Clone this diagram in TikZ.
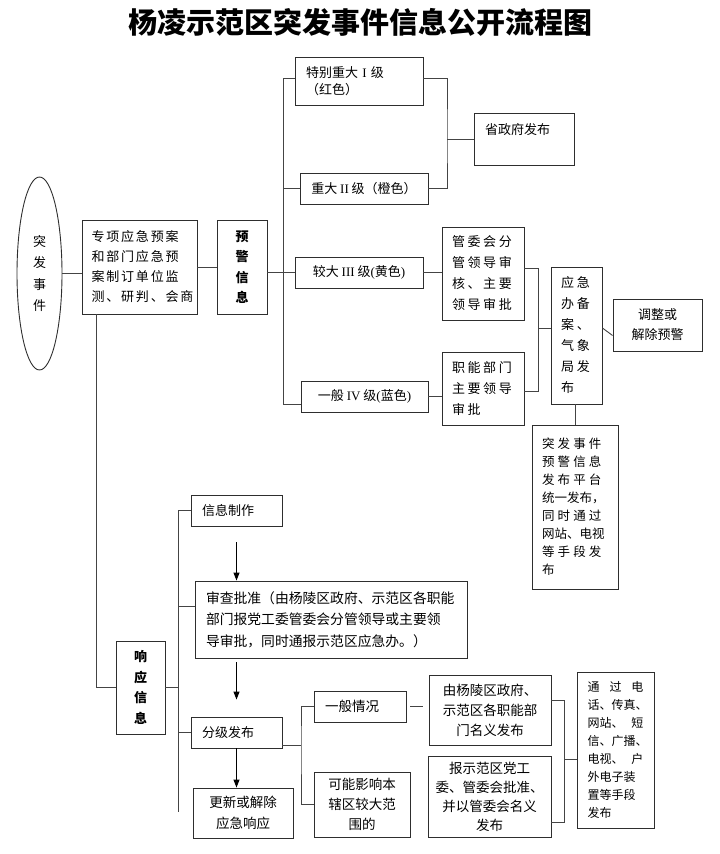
\documentclass[tikz,border=0pt]{standalone}
\usepackage{fontspec}
\setmainfont{Noto Sans CJK SC}
\newfontfamily\numfont{Liberation Serif}
\usepackage{tikz}
\usetikzlibrary{positioning, arrows.meta, calc, shapes.geometric}
\definecolor{linegray}{HTML}{444444}
\definecolor{boxgray}{HTML}{2E2E2E}

\begin{document}
\begin{tikzpicture}[x=1pt, y=-1pt,
    box/.style={draw=boxgray, line width=0.9pt, inner sep=0pt, align=center,
                font=\fontsize{13}{20}\selectfont},
    lbox/.style={box, align=left, inner xsep=11pt},
    conn/.style={draw=linegray, line width=0.9pt},
    arrow/.style={conn, draw=black, -{Triangle[length=8pt, width=6pt]}}]
  \useasboundingbox (0,0) rectangle (720,854);

  \node[font=\bfseries\fontsize{29}{34}\selectfont] (title) at (360,22) {杨凌示范区突发事件信息公开流程图};

  % warning part
  \node[box, ellipse, minimum width=45pt, minimum height=193pt,
        font=\fontsize{13}{21.5}\selectfont] (ev) at (39.5,273.5) {突\\发\\事\\件};
  \node[lbox, inner xsep=9.5pt, text width=96pt, minimum height=94pt,
        font=\fontsize{13}{20}\selectfont\addfontfeature{LetterSpace=14}] (zx) at (139.5,267)
        {专项应急预案\\和部门应急预\\案制订单位监\\测、研判、会商};
  \node[box, minimum width=50pt, minimum height=94pt,
        font=\bfseries\fontsize{13}{20.5}\selectfont] (yj) at (242,267) {预\\警\\信\\息};

  \node[lbox, text width=106pt, minimum height=48pt, font=\fontsize{13}{17}\selectfont] (l1) at (359,81)
        {特别重大 {\numfont I} 级\\（红色）};
  \node[box, minimum width=128pt, minimum height=31pt] (l2) at (364,188.5) {重大 {\numfont II} 级（橙色）};
  \node[box, minimum width=128pt, minimum height=31pt] (l3) at (359,272.5) {较大 {\numfont III} 级{\numfont (}黄色{\numfont )}};
  \node[box, minimum width=127pt, minimum height=31pt] (l4) at (364.5,396.5) {一般 {\numfont IV} 级{\numfont (}蓝色{\numfont )}};

  \node[lbox, text width=78pt, minimum height=52pt] (sz) at (524,139) {省政府发布\\~};
  \node[lbox, inner xsep=10pt, text width=62pt, minimum height=93pt,
        font=\fontsize{13}{21}\selectfont\addfontfeature{LetterSpace=20}] (gw) at (483,273.5)
        {管委会分\\管领导审\\核、主要\\领导审批};
  \node[lbox, inner xsep=10pt, text width=62pt, minimum height=73pt,
        font=\fontsize{13}{21}\selectfont\addfontfeature{LetterSpace=20}] (zn) at (483,388.5)
        {职能部门\\主要领导\\审批};
  \node[lbox, inner xsep=10pt, text width=31pt, minimum height=137pt,
        font=\fontsize{13}{21}\selectfont\addfontfeature{LetterSpace=22}] (yjb) at (576.5,335.5)
        {应急\\办备\\案、\\气象\\局发\\布};
  \node[box, minimum width=89pt, minimum height=52pt] (tz) at (657.5,325) {调整或\\解除预警};
  \node[lbox, inner xsep=10pt, text width=66pt, minimum height=164pt,
        font=\fontsize{12.5}{18}\selectfont\addfontfeature{LetterSpace=25}] (pt) at (575,507)
        {突发事件\\预警信息\\发布平台\\{\rmfamily\fontsize{12.5}{18}\selectfont 统一发布，}\\同时通过\\{\rmfamily\fontsize{12.5}{18}\selectfont 网站、电视}\\等手段发\\布};

  \draw[conn] (ev.east) -- (ev.east -| zx.west);
  \draw[conn] (zx.east) -- (yj.west);
  \draw[conn] (yj.east |- l3.west) -- (l3.west);
  \coordinate (wt) at (283,78);
  \coordinate (wb) at (283,404);
  \draw[conn] (l1.west |- wt) -- (wt) -- (wb) -- (l4.west |- wb);
  \draw[conn] (wt |- l2.west) -- (l2.west);
  \coordinate (ba) at (447,139);
  \draw[conn] (l1.east |- wt) -| (ba) |- (l2.east);
  \draw[conn] (ba) -- (sz.west);
  \draw[conn] (l3.east) -- (l3.east -| gw.west);
  \draw[conn] (l4.east) -- (l4.east -| zn.west);
  \coordinate (bb1) at (538,268);
  \coordinate (bb2) at (538,391);
  \coordinate (bb) at (538,328);
  \draw[conn] (gw.east |- bb1) -- (bb1) -- (bb2) -- (zn.east |- bb2);
  \draw[conn] (bb) -- (bb -| yjb.west);
  \draw[conn] (yjb.east |- bb) -- (yjb.east -| tz.west);
  \draw[conn] (yjb.south -| pt.north) -- (pt.north);

  % response part
  \node[box, minimum width=49pt, minimum height=93pt,
        font=\bfseries\fontsize{13}{20.5}\selectfont] (xy) at (140.5,687.5) {响\\应\\信\\息};
  \node[lbox, text width=69pt, minimum height=31pt] (xx) at (236.5,510.5) {信息制作};
  \node[lbox, text width=250pt, minimum height=77pt, font=\fontsize{13.8}{21.5}\selectfont] (sc) at (331,619.5)
        {审查批准（由杨陵区政府、示范区各职能\\部门报党工委管委会分管领导或主要领\\导审批，同时通报示范区应急办。）};
  \node[lbox, text width=69pt, minimum height=31pt] (fj) at (236.5,732.5) {分级发布};
  \node[box, minimum width=100pt, minimum height=50pt, font=\fontsize{13.5}{21}\selectfont] (gx) at (243,813) {更新或解除\\应急响应};
  \node[lbox, text width=70pt, minimum height=31pt, font=\fontsize{13.5}{20}\selectfont] (yb) at (360,706.5) {一般情况};
  \node[box, minimum width=96pt, minimum height=65pt, font=\fontsize{13.5}{20}\selectfont] (kn) at (362,804.5)
        {可能影响本\\辖区较大范\\围的};
  \node[box, minimum width=122pt, minimum height=70pt, font=\fontsize{13.5}{20}\selectfont] (yl) at (490,710)
        {由杨陵区政府、\\示范区各职能部\\门名义发布};
  \node[box, minimum width=123pt, minimum height=81pt, font=\fontsize{13.5}{19}\selectfont] (bs) at (489.5,796.5)
        {报示范区党工\\委、管委会批准、\\并以管委会名义\\发布};
  \node[lbox, inner xsep=10.5pt, text width=56pt, minimum height=156pt, font=\fontsize{12}{18}\selectfont] (tg) at (615.5,750)
        {通\hfill 过\hfill 电\\话、传真、\\网站、\hfill 短\\信、广播、\\电视、\hfill 户\\外电子装\\置等手段\\发布};

  \coordinate (la) at (96,0);
  \draw[conn] (zx.south -| la) |- (xy.west);
  \coordinate (ra) at (178,511);
  \coordinate (rb) at (178,812);
  \coordinate (rc) at (178,606);
  \draw[conn] (xx.west) -- (xx.west -| ra) -- (rb);
  \draw[conn] (rc) -- (rc -| sc.west);
  \draw[conn] (xy.east) -- (xy.east -| ra);
  \draw[conn] (fj.west -| ra) -- (fj.west);
  \draw[arrow, shorten <=16pt] (xx.south) -- (xx.south |- sc.north);
  \draw[arrow, shorten <=4pt, shorten >=17pt] (xx.south |- sc.south) -- (xx.south |- fj.north);
  \draw[arrow] (fj.south) -- (fj.south |- gx.north);

  \coordinate (fa) at (301,745);
  \draw[conn] (fj.east |- fa) -- (fa);
  \draw[conn] (yb.west) -| (fa) |- (kn.west);
  \draw[conn, shorten <=4pt, shorten >=6pt] (yb.east) -- (yb.east -| yl.west);
  \coordinate (ga) at (564,700);
  \coordinate (gb) at (564,822);
  \coordinate (gc) at (564,759);
  \draw[conn] (yl.east |- ga) -- (ga) -- (gb) -- (bs.east |- gb);
  \draw[conn] (gc) -- (gc -| tg.west);
\end{tikzpicture}
\end{document}
